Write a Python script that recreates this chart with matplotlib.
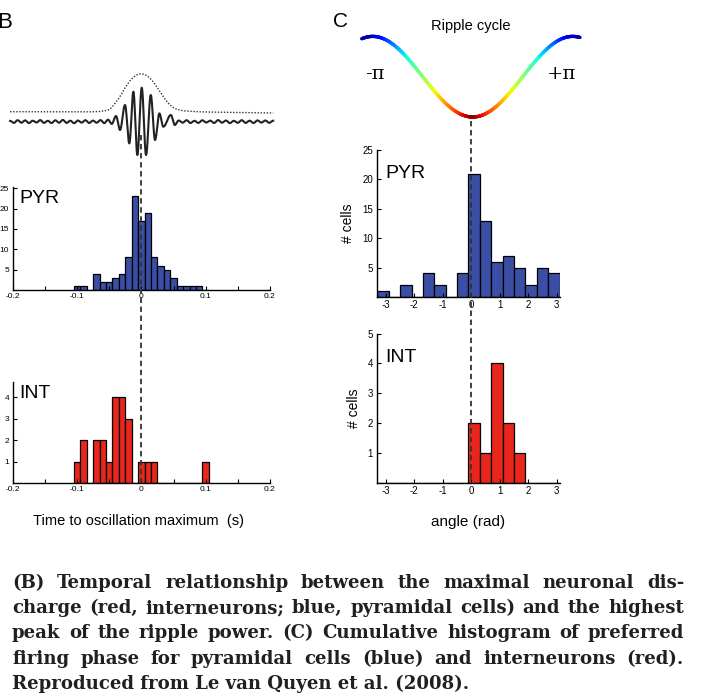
import numpy as np
import matplotlib
matplotlib.use("Agg")
import matplotlib.pyplot as plt
from matplotlib import transforms
from matplotlib.collections import LineCollection
from matplotlib.lines import Line2D

plt.rcParams['font.family'] = ['Liberation Sans', 'DejaVu Sans']
plt.rcParams['axes.unicode_minus'] = False

# ---- data ----
# B: time to oscillation maximum (s), bin centres and counts
time_bins = [-0.10, -0.09, -0.08, -0.07, -0.06, -0.05, -0.04, -0.03, -0.02, -0.01,
             0.00, 0.01, 0.02, 0.03, 0.04, 0.05, 0.06, 0.07, 0.08, 0.09, 0.10]
pyr_time = [1, 1, 0, 4, 2, 2, 3, 4, 8, 23, 17, 19, 8, 6, 5, 3, 1, 1, 1, 1, 0]
int_time = [1, 2, 0, 2, 2, 1, 4, 4, 3, 0, 1, 1, 1, 0, 0, 0, 0, 0, 0, 0, 1]

# C: preferred phase (rad), left bin edges and counts
phase_edges = [-3.3, -2.9, -2.5, -2.1, -1.7, -1.3, -0.9, -0.5,
               -0.1, 0.3, 0.7, 1.1, 1.5, 1.9, 2.3, 2.7]
pyr_phase = [1, 0, 2, 0, 4, 2, 0, 4, 21, 13, 6, 7, 5, 2, 5, 4]
int_phase = [0, 0, 0, 0, 0, 0, 0, 0, 2, 1, 4, 2, 1, 0, 0, 0]

# ripple trace: extrema (time, amplitude in px)
left_wiggle = [0.8, -1.2, 1.5, -1.0, 1.3, -1.4, 1.0, -0.8, 1.6, -1.2, 0.9, -1.3, 1.4, -1.0,
               1.8, -1.2, 1.0, -1.5, 1.2, -0.9, 1.5, -1.3, 1.1, -1.0, 1.6, -1.4, 2.0, -2.2]
ripple_t = [-0.0394, -0.0332, -0.0254, -0.0187, -0.0124, -0.0062, 0.0006, 0.0073,
            0.0146, 0.0213, 0.0280, 0.0342, 0.0458, 0.0520]
ripple_v = [5.7, -8.3, 16.7, -21.7, 30.0, -33.3, 34.0, -33.3, 26.7, -18.3, 8.3, -5.0, 6.7, -3.3]
right_wiggle = [1.2, -1.0, 1.5, -1.3, 0.9, -1.2, 1.4, -0.8, 1.1, -1.3, 1.6, -1.0, 1.2, -1.4,
                0.9, -1.1, 1.5, -1.2, 1.0, -1.3, 1.3, -0.9, 1.2, -1.1, 1.0]
env_t = [-0.204, -0.08, -0.064, -0.049, -0.033, -0.023, -0.0124, -0.002, 0.0084,
         0.0187, 0.029, 0.0395, 0.05, 0.063, 0.09, 0.205]
env_v = [10.0, 9.8, 10.2, 11.7, 25.0, 36.7, 45.0, 48.4, 46.7, 40.0, 30.0, 20.0, 13.4, 11.0, 9.8, 8.7]

caption_lines = [
    "(B) Temporal relationship between the maximal neuronal dis-",
    "charge (red, interneurons; blue, pyramidal cells) and the highest",
    "peak of the ripple power. (C) Cumulative histogram of preferred",
    "firing phase for pyramidal cells (blue) and interneurons (red).",
    "Reproduced from Le van Quyen et al. (2008).",
]

BLUE = '#3b4ea6'
RED = '#e8261c'
W, H = 702, 698

fig = plt.figure(figsize=(W / 100, H / 100), dpi=100)


def box(x0, y0, x1, y1):
    # pixel box (y from top) -> figure fraction
    return [x0 / W, 1 - y1 / H, (x1 - x0) / W, (y1 - y0) / H]


def style(ax, fs):
    for s in ['top', 'right']:
        ax.spines[s].set_visible(False)
    for s in ['left', 'bottom']:
        ax.spines[s].set_linewidth(1.0)
    ax.tick_params(direction='in', length=3, width=0.8, labelsize=fs, pad=2.5)


# ---- panel B ----
ax_pyr = fig.add_axes(box(12.7, 187, 270, 290))
ax_pyr.bar(time_bins, pyr_time, width=0.01, color=BLUE, edgecolor='black', linewidth=0.9)
ax_pyr.set_ylim(0, 25.3)
ax_pyr.set_yticks([5, 10, 15, 20, 25])

ax_int = fig.add_axes(box(12.7, 382, 270, 483))
ax_int.bar(time_bins, int_time, width=0.01, color=RED, edgecolor='black', linewidth=0.9)
ax_int.set_ylim(0, 4.7)
ax_int.set_yticks([1, 2, 3, 4])

for ax, name in [(ax_pyr, 'PYR'), (ax_int, 'INT')]:
    style(ax, 6)
    ax.set_xlim(-0.2, 0.2)
    ticks = [-0.2, -0.15, -0.1, -0.05, 0, 0.05, 0.1, 0.15, 0.2]
    ax.set_xticks(ticks)
    ax.set_xticklabels(['-0.2', '', '-0.1', '', '0', '', '0.1', '', '0.2'])
    ax.text(0.025, 0.97, name, transform=ax.transAxes, fontsize=14, va='top', ha='left')

ax_int.text(0.49, -0.38, 'Time to oscillation maximum  (s)', transform=ax_int.transAxes,
            ha='center', va='center', fontsize=10.5)


def half_cos(ts, vs, n=30):
    xs, ys = [], []
    for i in range(len(ts) - 1):
        s = np.linspace(0, 1, n, endpoint=False)
        xs.append(ts[i] + (ts[i + 1] - ts[i]) * s)
        ys.append(vs[i] + (vs[i + 1] - vs[i]) * (1 - np.cos(np.pi * s)) / 2)
    xs.append([ts[-1]])
    ys.append([vs[-1]])
    return np.concatenate(xs), np.concatenate(ys)


ax_wave = fig.add_axes(box(12.7, 60, 270, 160))
ax_wave.set_xlim(-0.2, 0.2)
ax_wave.set_ylim(-38.3, 61.7)
ax_wave.axis('off')
lt = list(np.linspace(-0.204, -0.046, len(left_wiggle)))
rt = list(np.linspace(0.058, 0.205, len(right_wiggle)))
tx, ty = half_cos(lt + ripple_t + rt, left_wiggle + ripple_v + right_wiggle)
ax_wave.plot(tx, ty, color='#222222', lw=1.5, clip_on=False)
ex = np.linspace(env_t[0], env_t[-1], 600)
ey = np.convolve(np.interp(ex, env_t, env_v), np.ones(15) / 15, mode='same')
ey[:8] = env_v[0]
ey[-8:] = env_v[-1]
ax_wave.plot(ex, ey, color='#333333', lw=1.0, ls=(0, (1, 1.2)), clip_on=False)

fig.text(12 / W, 1 - 28 / H, 'B', fontsize=16, ha='right', va='baseline')

# ---- panel C ----
ax_pp = fig.add_axes(box(376.5, 150, 559.5, 297))
ax_pp.bar(phase_edges, pyr_phase, width=0.4, align='edge', color=BLUE,
          edgecolor='black', linewidth=0.9)
ax_pp.set_ylim(0, 25)
ax_pp.set_yticks([5, 10, 15, 20, 25])

ax_ip = fig.add_axes(box(376.5, 333.7, 559.5, 482.5))
ax_ip.bar(phase_edges, int_phase, width=0.4, align='edge', color=RED,
          edgecolor='black', linewidth=0.9)
ax_ip.set_ylim(0, 5)
ax_ip.set_yticks([1, 2, 3, 4, 5])

for ax, name in [(ax_pp, 'PYR'), (ax_ip, 'INT')]:
    style(ax, 7)
    ax.set_xlim(-3.33, 3.1)
    ax.set_xticks([-3, -2, -1, 0, 1, 2, 3])
    ax.set_ylabel('# cells', fontsize=10, labelpad=5)
    ax.text(0.05, 0.9, name, transform=ax.transAxes, fontsize=14, va='top', ha='left')
ax_ip.set_xlabel('angle (rad)', fontsize=11, labelpad=14)

# ripple cycle
ax_cyc = fig.add_axes(box(355, 20, 590, 130))
ax_cyc.set_xlim(355, 590)
ax_cyc.set_ylim(130, 20)
ax_cyc.axis('off')
px = np.linspace(361.7, 580, 400)
phase = (px - 472.7) / 100 * np.pi
py = 76.7 + 40.3 * np.cos(phase)
pts = np.column_stack([px, py]).reshape(-1, 1, 2)
segs = np.concatenate([pts[:-1], pts[1:]], axis=1)
cval = 1 - np.clip(np.abs(phase[:-1]) / np.pi, 0, 1)
lc = LineCollection(segs, colors=plt.cm.jet(cval * 0.95 + 0.05), linewidths=2.4, capstyle='round')
ax_cyc.add_collection(lc)
ax_cyc.text(471, 26, 'Ripple cycle', fontsize=10.5, ha='center', va='center')
ax_cyc.text(375, 74, '-π', fontsize=14, ha='center', va='center', family='DejaVu Serif')
ax_cyc.text(562, 74, '+π', fontsize=14, ha='center', va='center', family='DejaVu Serif')

fig.text(333 / W, 1 - 27 / H, 'C', fontsize=15, ha='left', va='baseline')

# dashed zero lines running through the panels
for ax, y0, y1 in [(ax_pyr, 135, 483), (ax_pp, 121, 482.5)]:
    tr = transforms.blended_transform_factory(ax.transData, fig.transFigure)
    fig.add_artist(Line2D([0, 0], [1 - y0 / H, 1 - y1 / H], transform=tr, color='#333333',
                          lw=1.3, ls=(0, (3, 2)), zorder=10))

# ---- justified caption ----
renderer = fig.canvas.get_renderer()
cap_left, cap_right = 12, 684
cap_font = 'DejaVu Serif'
probe = fig.text(0, 0, caption_lines[1], fontsize=10, fontweight='bold', family=cap_font)
cap_size = 10 * 664 / probe.get_window_extent(renderer).width
probe.remove()
cap_kw = dict(fontsize=cap_size, fontweight='bold', family=cap_font, color='#231f20',
              va='baseline', ha='left')
for i, line in enumerate(caption_lines):
    yb = 1 - (588 + i * 25.2) / H
    if i == len(caption_lines) - 1:
        fig.text(cap_left / W, yb, line, **cap_kw)
        continue
    words = line.split(' ')
    objs = [fig.text(0, yb, w, **cap_kw) for w in words]
    widths = [o.get_window_extent(renderer).width for o in objs]
    gap = (cap_right - cap_left - sum(widths)) / (len(words) - 1)
    x = cap_left
    for o, wd in zip(objs, widths):
        o.set_x(x / W)
        x += wd + gap

fig.savefig('out.png', dpi=100)
